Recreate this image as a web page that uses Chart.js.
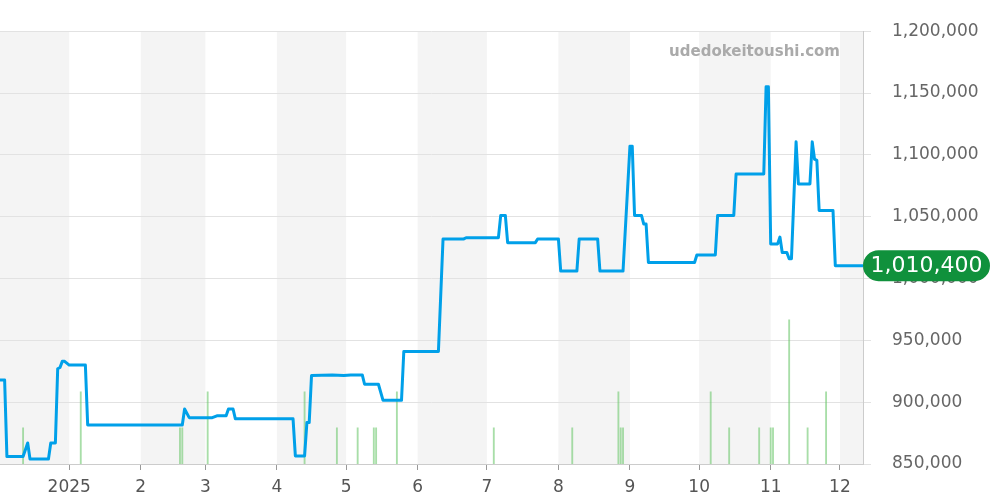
<!DOCTYPE html>
<html><head><meta charset="utf-8">
<script src="https://cdn.jsdelivr.net/npm/chart.js@4/dist/chart.umd.min.js"></script>
<style>html,body{margin:0;padding:0;background:#fff}#wrap{width:1000px;height:500px}</style>
</head><body><div id="wrap"><canvas id="c" width="1000" height="500"></canvas></div>
<script>
const startDate = "2024-12-02";
const endDate = "2025-12-11";

const priceDates = [
"2024-12-02","2024-12-04","2024-12-05","2024-12-12","2024-12-14","2024-12-15","2024-12-23","2024-12-24","2024-12-26","2024-12-27",
"2024-12-28","2024-12-29","2024-12-30","2025-01-01","2025-01-08","2025-01-09","2025-02-19","2025-02-20","2025-02-22","2025-03-04",
"2025-03-06","2025-03-10","2025-03-11","2025-03-13","2025-03-14","2025-04-08","2025-04-09","2025-04-13","2025-04-14","2025-04-15",
"2025-04-16","2025-04-25","2025-04-30","2025-05-03","2025-05-08","2025-05-09","2025-05-15","2025-05-17","2025-05-25","2025-05-26",
"2025-06-10","2025-06-12","2025-06-21","2025-06-22","2025-07-06","2025-07-07","2025-07-09","2025-07-10","2025-07-22","2025-07-23",
"2025-08-01","2025-08-02","2025-08-09","2025-08-10","2025-08-18","2025-08-19","2025-08-29","2025-09-01","2025-09-02","2025-09-03",
"2025-09-06","2025-09-07","2025-09-08","2025-09-09","2025-09-29","2025-09-30","2025-10-08","2025-10-09","2025-10-16","2025-10-17",
"2025-10-29","2025-10-30","2025-10-31","2025-11-01","2025-11-04","2025-11-05","2025-11-06","2025-11-08","2025-11-09","2025-11-10",
"2025-11-12","2025-11-13","2025-11-18","2025-11-19","2025-11-20","2025-11-21","2025-11-22","2025-11-28","2025-11-29","2025-12-11"
];
const priceValues = [
918000,918000,856000,856000,867000,854000,854000,867000,867000,927000,
928000,933000,933000,930000,930000,881500,881500,894500,887500,887500,
889000,889000,894500,894500,886500,886500,856500,856500,883500,883500,
921500,922000,921500,922000,922000,914500,914500,901500,901500,941000,
941000,1032000,1032000,1033000,1033000,1051000,1051000,1029000,1029000,1032000,
1032000,1006000,1006000,1032000,1032000,1006000,1006000,1107000,1107000,1051000,
1051000,1044000,1044000,1013000,1013000,1019000,1019000,1051000,1051000,1084500,
1084500,1155000,1155000,1028000,1028000,1033500,1021000,1021000,1016000,1016000,
1110500,1076500,1076500,1110500,1096500,1095500,1055000,1055000,1010400,1010400
];

const volumeDates = [
"2024-12-12","2025-01-06","2025-02-18","2025-02-19","2025-03-02","2025-04-13","2025-04-27","2025-05-06","2025-05-13","2025-05-14",
"2025-05-23","2025-07-04","2025-08-07","2025-08-27","2025-08-28","2025-08-29","2025-10-06","2025-10-14","2025-10-27","2025-11-01",
"2025-11-02","2025-11-09","2025-11-17","2025-11-25"
];
const volumeValues = [1,2,1,1,2,2,1,1,1,1,2,1,1,2,1,1,2,1,1,1,1,4,1,2];

const monthStarts = ["2025-01-01","2025-02-01","2025-03-01","2025-04-01","2025-05-01","2025-06-01","2025-07-01","2025-08-01","2025-09-01","2025-10-01","2025-11-01","2025-12-01"];
const monthLabels = ["2025","2","3","4","5","6","7","8","9","10","11","12"];
const shadedMonths = [["2024-12-01","2025-01-01"],["2025-02-01","2025-03-01"],["2025-04-01","2025-05-01"],["2025-06-01","2025-07-01"],["2025-08-01","2025-09-01"],["2025-10-01","2025-11-01"],["2025-12-01","2026-01-01"]];
const yTicks = [850000,900000,950000,1000000,1050000,1100000,1150000,1200000];
const lastValue = 1010400;
const lastLabel = "1,010,400";
const watermark = "udedokeitoushi.com";

function dayNum(s){return (Date.parse(s+"T00:00:00Z")-Date.parse(startDate+"T00:00:00Z"))/86400000;}

const bandPlugin = {
  id:'bands',
  beforeDraw(chart){
    const {ctx, chartArea:a, scales:{x}} = chart;
    ctx.save();
    ctx.fillStyle = '#f4f4f4';
    shadedMonths.forEach(([s,e])=>{
      let x0 = Math.max(a.left, x.getPixelForValue(dayNum(s)));
      let x1 = Math.min(a.right, x.getPixelForValue(dayNum(e)));
      if (x1 > x0) ctx.fillRect(x0, a.top, x1-x0, a.bottom-a.top);
    });
    ctx.restore();
  }
};
const overlayPlugin = {
  id:'overlay',
  afterDraw(chart){
    const {ctx, chartArea:a, scales:{y}} = chart;
    ctx.save();
    ctx.font = 'bold 15px "DejaVu Sans"';
    ctx.fillStyle = '#aaaaaa';
    ctx.textAlign = 'right';
    ctx.textBaseline = 'middle';
    ctx.fillText(watermark, 840, 52);
    const yy = y.getPixelForValue(lastValue);
    const x0 = a.right, w = 127, h = 31, r = 15.5;
    ctx.fillStyle = '#10913c';
    ctx.beginPath();
    ctx.moveTo(x0+r, yy-h/2);
    ctx.lineTo(x0+w-r, yy-h/2);
    ctx.arc(x0+w-r, yy, r, -Math.PI/2, Math.PI/2);
    ctx.lineTo(x0+r, yy+h/2);
    ctx.arc(x0+r, yy, r, Math.PI/2, Math.PI*1.5);
    ctx.closePath();
    ctx.fill();
    ctx.fillStyle = '#ffffff';
    ctx.font = '22px "DejaVu Sans"';
    ctx.textAlign = 'center';
    ctx.fillText(lastLabel, x0+w/2, yy+1);
    ctx.restore();
  }
};

new Chart(document.getElementById('c'), {
  data:{
    datasets:[
      {type:'line', data: priceDates.map((d,i)=>({x:dayNum(d), y:priceValues[i]})), borderColor:'#00a0e9', borderWidth:3, pointRadius:0, tension:0, yAxisID:'y', order:0, borderJoinStyle:'round'},
      {type:'bar', data: volumeDates.map((d,i)=>({x:dayNum(d), y:volumeValues[i]})), backgroundColor:'rgba(110,200,110,0.6)', barThickness:1.2, yAxisID:'v', order:1}
    ]
  },
  options:{
    responsive:false, animation:false,
    layout:{padding:{top:30,left:0,right:0,bottom:0}},
    plugins:{legend:{display:false}, tooltip:{enabled:false}},
    scales:{
      x:{type:'linear', min:0, max:dayNum(endDate), offset:false,
        afterBuildTicks:s=>{s.ticks = monthStarts.map(d=>({value:dayNum(d)}));},
        ticks:{callback:(v,i)=>monthLabels[i], font:{size:17,family:'"DejaVu Sans"'}, color:'#555', maxRotation:0, autoSkip:false, padding:7},
        grid:{drawOnChartArea:false, tickLength:6, color:'#999', offset:false},
        border:{color:'#cccccc'},
        afterFit:s=>{s.height=36;}
      },
      y:{position:'right', min:850000, max:1200000,
        afterBuildTicks:s=>{s.ticks = yTicks.map(v=>({value:v}));},
        ticks:{callback:v=>v.toLocaleString('en-US'), font:{size:17,family:'"DejaVu Sans"'}, color:'#666', padding:21},
        grid:{color:'#e2e2e2', tickLength:8},
        border:{color:'#cccccc'},
        afterFit:s=>{s.width=137;}
      },
      v:{display:false, min:0, max:12}
    }
  },
  plugins:[bandPlugin, overlayPlugin]
});
</script>
</body></html>
